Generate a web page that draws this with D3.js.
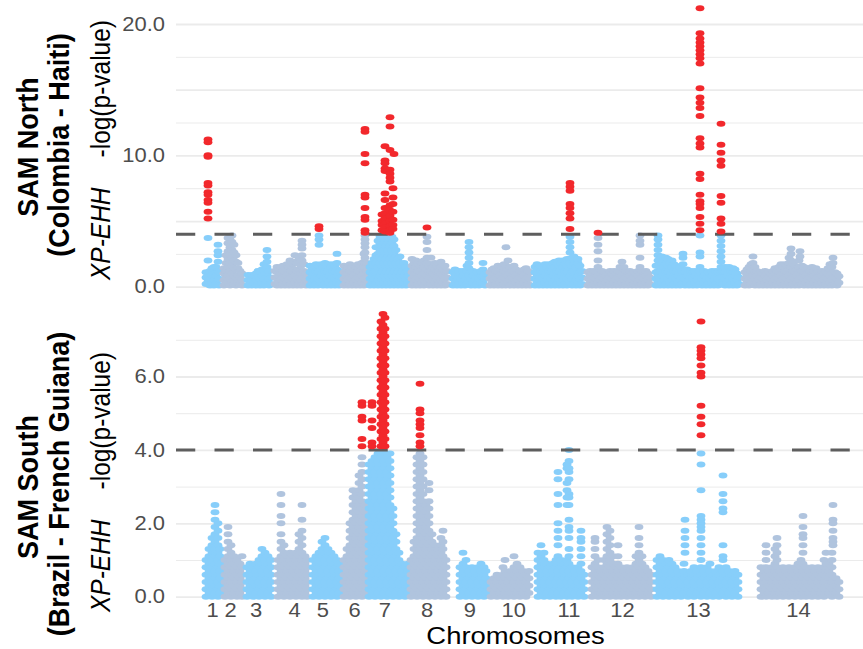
<!DOCTYPE html>
<html>
<head>
<meta charset="utf-8">
<script src="https://cdn.jsdelivr.net/npm/d3@7"></script>
<style>
body { margin: 0; background: #fff; }
svg text { font-family: "Liberation Sans", Arial, Helvetica, sans-serif; }
</style>
</head>
<body>
<div id="chart"></div>
<script>
// chromosomes, lengths as drawn on the genome axis (Mb) and label positions
const chrNames = ["1","2","3","4","5","6","7","8","9","10","11","12","13","14"];
const chrLen = [19,23,28,35,34,26,42,40,38,45,53,68,88,103];
const chrMid = [9,27,52.7,91,119.3,151,181.3,223.7,266.3,310.3,365.5,419,495,595];
const threshold = 4;

const northTicks = [0,10,20];
const northGrid = [0,2.5,5,7.5,10,12.5,15,17.5,20];
const southTicks = [0,2,4,6];
const southGrid = [0,1,2,3,4,5,6,7];

// SNP loci per chromosome: [position in chromosome (Mb), -log(p) x10 of each SNP at that locus...]
// SAM North (Colombia - Haiti)
const n01 = [[3,2,7,11],[5,112,110,100,99,79,77,72,70,66,64,57,52,37,20,4,9],[7,1,6,12],[9,3,9,14],[11,1,5,10,15],[13,2,8,15],[15,32,27,24,19,12,5],[16,1,6,11]];
const n02 = [[2,1,5,10,14],[4,2,7,12,18,24],[6,3,9,15,21,27,33,37],[8,1,6,12,18,24,30,36],[10,4,10,16,22,28,34,39],[12,2,8,14,20,26,32],[14,1,7,13,19,24],[16,3,9,14,18],[18,2,7,12],[20,1,5,10]];
const n03 = [[3,1,5,9],[5,2,7],[7,1,5,9],[9,3,8],[11,1,5,10],[13,2,7,12],[15,1,6,11],[17,3,8,13],[19,1,6,12,17],[21,2,7,13],[22,28,23,19,15,10,4],[24,1,6,12],[26,2,7]];
const n04 = [[2,2,7,12],[4,1,6,11,15],[6,3,8,13],[8,1,5,10,15],[10,2,7,12,16],[12,1,6,11],[14,3,8,13,17],[16,1,5,10,15],[17,20],[18,2,7,12,16],[20,1,6,11,17],[22,24,3,8,13,19],[24,1,6,12,18],[26,2,7,13,22],[28,1,5,10,16],[29,35,32,29,24,20],[31,2,7,12,17],[33,1,5,10]];
const n05 = [[2,1,6,11,16],[4,3,8,13],[6,1,5,10,15],[8,2,7,12,17],[10,1,6,11],[11,46,44,39,36,32,16],[13,3,8,13,17],[15,1,5,10,15],[17,2,7,12,18],[19,1,6,11,16],[21,3,8,13,17],[23,1,5,10,15],[25,2,7,12,17],[27,1,6,11,16],[29,25,3,8,13,18],[31,1,5,10],[32,2,7,12]];
const n06 = [[2,1,6,11,16],[4,3,8,13],[6,1,5,10,15],[8,2,7,12,17],[10,1,6,11,15],[12,3,8,13],[14,1,5,10,15],[16,2,7,12,17],[18,1,6,11,16],[20,3,8,13,18],[22,1,6,12,19,25],[23,120,118,101,94,70,68,60,53,51,43,41,39,36,33,30,26,22,18,14,10,6,2],[25,2,7,12,18]];
const n07 = [[2,1,6,11,15],[4,3,8,13,18],[6,1,6,11,16,21],[8,2,7,12,18,24,30],[10,1,5,10,15,20,25,30,35],[12,3,8,13,18,23,28,33,38],[14,55,50,47,43,1,6,11,16,21,26,31,36],[16,3,8,13,18,23,28,33,38],[17,107,96,94,90,88,71,66,60,56,52,48,45,42],[18,1,6,11,16,21,26,31,36],[20,3,8,13,18,23,28,33,38],[22,129,122,104,89,86,83,80,62,58,54,50,46,43,41,1,6,11,16,21,26,31,36],[24,3,8,13,18,23,28,33,38],[25,75,68,63,57,51,47,44],[26,101,1,6,11,16,21,26,31,36],[28,3,8,13,18,23,28],[30,1,6,11,16,21],[32,3,8,13,18,23],[34,1,6,11,16],[36,3,8,13,18],[38,1,6,11,15],[40,3,8,12]];
const n08 = [[2,1,6,11,16,21],[4,3,8,13,18],[6,1,5,10,15,20],[8,2,7,12,17],[10,1,6,11,16],[12,3,8,13,18],[14,1,5,10,15,20],[17,45,38,34,28,22,3,8,13,18],[19,1,6,11,16],[21,2,7,12,17,22],[23,1,5,10,15],[25,3,8,13,18],[27,1,6,11,16],[29,2,7,12,17],[31,1,5,10,15,19],[33,3,8,13],[35,1,6,11,16],[37,2,7,12]];
const n09 = [[3,1,6,11],[5,3,8,13],[7,1,5,10],[9,2,7,12],[11,1,6,10],[13,3,8,12],[15,1,5,10],[17,2,7,12,16],[19,34,30,26,22,18,14,9,4],[21,1,6,11],[23,3,8,12],[25,1,5,10],[27,2,7,11],[29,1,6,10],[31,3,8,12],[33,18,13,8,3],[35,1,6,10]];
const n10 = [[2,1,6,11],[4,3,8,13],[6,1,5,10,14],[8,2,7,12],[10,1,6,11,16],[12,3,8,13],[14,1,5,10,15],[16,2,7,12,17],[18,30,1,6,11,16],[20,20,3,8,13],[22,1,5,10,15],[24,2,7,12],[26,1,6,11,16],[28,3,8,13],[30,1,5,10],[32,2,7,12],[34,1,6,11],[36,3,8,13],[38,1,5,10,14],[40,2,7,12],[42,1,6,11]];
const n11 = [[2,1,6,11,15],[4,3,8,13,17],[6,1,5,10,14],[8,2,7,12,16],[10,1,6,11],[12,3,8,13,17],[14,1,5,10,15],[16,2,7,12,17],[18,1,6,11,16],[20,3,8,13,18],[22,1,5,10,15,19],[24,2,7,12,17],[26,1,6,11,16,20],[28,3,8,13,18],[30,1,5,10,15,20],[32,2,7,12,17],[34,1,6,11,16,21],[37,79,76,73,63,60,56,52,44,38,34,30,26,21,3,8,13,18],[39,1,6,11,16,22],[41,2,7,12,17,23],[43,1,5,10,15,20],[45,3,8,13,18,21],[47,1,6,11,16],[49,2,7,12]];
const n12 = [[2,1,6,11],[4,3,8,12],[6,1,5,10],[8,2,7,12],[10,1,6,11],[12,41,37,32,27,20,15,3,8],[14,1,5,10],[16,2,7,12],[18,1,6,11],[20,3,8],[22,1,5,10],[24,2,7,12],[26,1,6,10],[28,3,8,12],[30,1,5,10],[32,2,7,12],[34,1,6,11,15],[36,19,14,3,8],[38,1,5,10,15],[40,2,7,12],[42,1,6,11],[44,3,8,12],[46,1,5,10],[48,2,7,11],[50,1,6,10],[52,3,8,12],[54,39,35,32,22,15,1,5,10],[56,2,7,12],[58,1,6,11],[60,3,8,12],[62,1,5,10],[64,2,7]];
const n13 = [[2,1,6,11,16],[4,39,36,32,28,24,20,16,12,8,4],[6,1,6,11,16,21],[8,3,8,13,18,23],[10,1,5,10,15,20],[12,2,7,12,17,22],[14,1,6,11,16,21],[16,3,8,13,18],[18,1,5,10,15,20],[20,2,7,12,17],[22,1,6,11,16],[24,3,8,13],[26,1,5,10,15],[28,2,7,12],[29,25,22,17],[31,1,6,11],[33,3,8,13],[35,1,5,10],[37,2,7,12],[39,1,6,11],[41,3,8,12],[43,1,5,10],[46,212,193,189,186,183,180,177,174,170,151,144,140,136,130,113,109,106,86,82,70,65,63,60,53,48,43,39,26,23,15,2,7,12],[48,1,6,10],[50,3,8,12],[52,1,5,10],[54,2,7,11],[56,1,6,10],[58,3,8,12],[60,1,5,10],[62,2,7,12],[64,1,6,11],[67,124,108,102,96,92,69,64,52,48,42,39,35,31,27,23,19,15,11,7,3],[69,2,7,12],[71,1,6,11,15],[73,3,8,13],[75,1,5,10,15],[77,2,7,12],[79,1,6,11,14],[81,3,8,13],[83,1,5,10],[85,2,7]];
const n14 = [[3,1,6,11],[5,3,8,13],[7,1,5,10,15],[9,2,7,12,17],[11,23,18,13,8,3],[13,1,6,11,15],[15,3,8,12],[17,1,5,10],[19,2,7,11],[21,1,6,10],[23,3,8,12],[25,1,5,10],[27,2,7,11],[29,1,6,10],[31,3,8,12],[33,1,5,10,14],[35,2,7,12],[37,1,6,11,15],[39,3,8,13,17],[41,1,5,10,15],[43,2,7,12,17],[45,1,6,11,16],[47,3,8,13,18,22],[49,29,25,20,15,10,5,1],[51,2,7,12,17],[53,1,6,11,16],[55,3,8,13],[57,1,5,10,15,20],[58,27,23],[60,2,7,12,16],[62,1,6,11,15],[64,3,8,13],[66,1,5,10,14],[68,2,7,12],[70,1,6,11,15],[72,3,8,12],[74,1,5,10,14],[76,2,7,11],[78,1,6,11],[80,3,8,12],[82,1,5,10],[84,2,7,11],[86,1,6,10,14],[88,3,8,13,17],[90,1,5,10,15],[91,22,18],[93,2,7,11],[95,1,6,10],[97,3,8]];

// SAM South (Brazil - French Guiana)
const s01 = [[3,0,2,4,6,8,10],[6,1,3,5,7,9,11,13],[9,0,2,4,6,8,10,12,14,16],[12,1,3,5,7,9,11,13,15,17,19,21,23,25],[15,0,2,4,6,8,10,12,14,16,18,20],[17,1,3,5,7,9,11,13]];
const s02 = [[3,0,2,4,6,8,10],[6,1,3,5,7,9,11,13,15,17,19],[9,0,2,4,6,8,10,12,14],[12,1,3,5,7,9,11],[15,0,2,4,6,8,10],[18,1,3,5,7,9],[20,0,2,4,6,8,11]];
const s03 = [[2,0,2,4,6,8],[5,1,3,5,7,9],[8,0,2,4,6,8],[11,1,3,5,7,9],[14,0,2,4,6,8,10],[17,1,3,5,7,9,11,13],[20,0,2,4,6,8,10,12],[23,1,3,5,7,9,11],[26,0,2,4,6,8,10]];
const s04 = [[5,0,2,4,6,8,10],[8,1,3,5,7,9,11,13,15,17,20,22,25,28],[11,0,2,4,6,8,10,12,14],[14,1,3,5,7,9,11],[17,0,2,4,6,8,10,12],[20,1,3,5,7,9,11],[23,0,2,4,6,8,10,12],[26,1,3,5,7,9,11,13,15,17],[29,0,2,4,6,8,10,12,14,16,18,21,25],[32,1,3,5,7,9,11],[34,0,2,4,6,8,10]];
const s05 = [[5,0,2,4,6,8,10],[8,1,3,5,7,9,11],[11,0,2,4,6,8,10,12],[14,1,3,5,7,9,11,13,15],[17,0,2,4,6,8,10,12,14,16],[20,1,3,5,7,9,11,13],[23,0,2,4,6,8,10,12],[26,1,3,5,7,9,11],[29,0,2,4,6,8,10],[31,1,3,5,7,9]];
const s06 = [[2,0,2,4,6,8,10],[5,1,3,5,7,9,11,13],[8,0,2,4,6,8,10,12,14,16,18,20],[11,1,3,5,7,9,11,13,15,17,19,21,23,25,27,29],[14,0,2,4,6,8,10,12,14,16,18,20,22,24,26,28],[17,1,3,5,7,9,11,13,15,17,19,21,23,25,27,29,31,33],[20,53,52,49,48,43,41,0,2,4,6,8,10,12,14,16,18,20,22,24,26,28,30,32,34,36,38],[23,1,3,5,7,9,11,13,15,17,19,21,23,25]];
const s07 = [[1,0,2,4,6,8,10,12,14,16,18,20,22,24,26,28,30,32,34,36],[4,53,52,48,46,42,41,1,3,5,7,9,11,13,15,17,19,21,23,25,27,29,31,33,35,37],[7,0,2,4,6,8,10,12,14,16,18,20,22,24,26,28,30,32,34,36,38],[10,1,3,5,7,9,11,13,15,17,19,21,23,25,27,29,31,33,35,37,39],[13,75,73,71,69,67,65,63,61,59,57,55,53,51,49,47,45,43,41,0,2,4,6,8,10,12,14,16,18,20,22,24,26,28,30,32,34,36,38],[15,77,74,72,70,68,66,64,62,60,58,56,54,52,50,48,46,44,42],[16,1,3,5,7,9,11,13,15,17,19,21,23,25,27,29,31,33,35,37,39],[17,76,73,71,69,67,65,63,61,59,57,55,53,51,49,47,45,43,41],[19,0,2,4,6,8,10,12,14,16,18,20,22,24,26,28,30,32,34,36,38],[22,1,3,5,7,9,11,13,15,17,19,21,23,25,27,29,31,33,35,37,39],[25,0,2,4,6,8,10,12,14,16,18,20,22,24],[28,1,3,5,7,9,11,13,15,17],[31,0,2,4,6,8,10,12],[34,1,3,5,7,9],[37,0,2,4,6,8],[40,1,3,5,7,9]];
const s08 = [[1,0,2,4,6,8,10],[4,1,3,5,7,9,11,13,15],[7,0,2,4,6,8,10,12,14,16,18,20,22,24,26,28,30,32,34,36,38],[10,58,51,50,48,47,46,44,42,41,1,3,5,7,9,11,13,15,17,19,21,23,25,27,29,31,33,35,37,39],[13,0,2,4,6,8,10,12,14,16,18,20,22,24,26,28,30,32,34,36,38],[16,1,3,5,7,9,11,13,15,17,19,21,23,25],[19,0,2,4,6,8,10,12,14,16,18,20,22,24,26,29,31],[22,1,3,5,7,9,11,13,15,17],[25,0,2,4,6,8,10,12,14],[28,1,3,5,7,9,11,13],[31,0,2,4,6,8,10,12,14,16],[33,1,3,5,7,9,11,13,15,18],[36,0,2,4,6,8,10]];
const s09 = [[10,0,2,4,6,8],[13,1,3,5,7,9,12],[16,0,2,4,6,8,10],[19,1,3,5,7],[22,0,2,4,6,8],[25,1,3,5,7],[28,0,2,4,6,8],[31,1,3,5,7,9],[34,0,2,4,6,8],[36,1,3,5,7]];
const s10 = [[3,0,2,4],[6,1,3,5],[9,0,2,4,6],[12,1,3,5],[15,0,2,4,6,8],[17,1,3,5,7,10],[20,0,2,4,6],[23,1,3,5,7],[26,0,2,4,6,8,11],[29,1,3,5,7,9],[32,0,2,4,6,8],[35,1,3,5,7],[38,0,2,4,6],[41,1,3,5,7]];
const s11 = [[5,0,2,4,6,8,10,12],[8,1,3,5,7,9,11,14],[11,0,2,4,6,8,10,12],[14,1,3,5,7,9],[17,0,2,4,6,8],[20,1,3,5,7,9],[23,0,2,4,6,8,10],[25,34,32,28,25,20,18,16,14,1,3,5,7,9,11],[28,0,2,4,6,8,10],[31,1,3,5,7,9],[34,36,35,31,29,27,25,0,2,4,6,8,10],[36,40,37,35,34,32,28,27,25,21,19,18,16,1,3,5,7,9,11,13],[39,0,2,4,6,8],[42,1,3,5,7],[45,0,2,4,6,8],[48,18,16,15,13,11,1,3,5,7,9],[51,0,2,4,6]];
const s12 = [[6,0,2,4,6,8],[9,1,3,5,7,9,11,13,15,16],[12,0,2,4,6,8,10],[15,1,3,5,7],[18,0,2,4,6,8,10],[21,1,3,5,7,9,11,13,15,17,19],[24,0,2,4,6,8,10,12,14,16,18],[27,1,3,5,7,9,11],[30,0,2,4,6,8],[32,1,3,5,7,9,11,14],[35,0,2,4,6,8],[38,1,3,5,7],[41,0,2,4,6,8],[44,1,3,5,7],[47,0,2,4,6,8],[50,1,3,5,7,9,11],[53,0,2,4,6,8,10,12,14,16,19],[56,1,3,5,7,9,11],[59,0,2,4,6,8],[62,1,3,5,7],[65,0,2,4,6]];
const s13 = [[3,0,2,4,6,8,10],[6,1,3,5,7,9,11],[9,0,2,4,6,8,10],[12,1,3,5,7,9],[15,0,2,4,6,8,10],[18,1,3,5,7,9],[21,0,2,4,6,8],[24,1,3,5,7],[27,0,2,4,6],[30,1,3,5,7,9],[31,21,18,16,14,12],[34,0,2,4,6],[37,1,3,5,7],[40,0,2,4,6,8],[43,1,3,5,7],[47,75,68,67,66,65,63,61,60,52,49,47,44,39,36,29,22,21,20,19,18,16,14,12,0,2,4,6,8,10],[50,1,3,5,7],[53,0,2,4,6,8],[56,1,3,5,7,9],[59,0,2,4,6],[62,1,3,5,7],[65,0,2,4,6,8],[69,33,28,26,24,23,14,11,10,1,3,5,7],[72,0,2,4,6,8],[75,1,3,5,7],[78,0,2,4,6],[81,1,3,5,7],[84,0,2,4,6]];
const s14 = [[19,0,2,4,6,8],[22,1,3,5,7],[24,0,2,4,6,8,10,12,14],[27,1,3,5,7],[30,0,2,4,6,8],[33,1,3,5,7,9,11,13],[35,0,2,4,6,8,10,12,14,16],[38,1,3,5,7],[41,0,2,4,6,8],[44,1,3,5,7],[47,0,2,4,6,8],[50,1,3,5,7],[53,0,2,4,6,8],[56,1,3,5,7,9],[59,0,2,4,6,8,10],[61,22,19,17,16,14,12,1,3,5,7,9],[64,0,2,4,6,8],[67,1,3,5,7],[70,0,2,4,6,8],[73,1,3,5,7],[76,0,2,4,6,8],[79,1,3,5,7],[82,0,2,4,6,8,10],[84,12,9,7],[87,1,3,5,7,9],[90,0,2,4,6,8,10,12],[91,25,21,20,18,16,15,14],[94,1,3,5],[97,0,2,4]];

const northChr = [n01,n02,n03,n04,n05,n06,n07,n08,n09,n10,n11,n12,n13,n14];
const southChr = [s01,s02,s03,s04,s05,s06,s07,s08,s09,s10,s11,s12,s13,s14];

const W = 863, H = 649;
const left = 176, right = 863;
const sx = 1.12; // glyphs in the picture are slightly wider than tall
const colBlue = "#87CEFA", colGray = "#B0C4DE", colRed = "#F2282C";

const svg = d3.select("#chart").append("svg")
    .attr("width", W)
    .attr("height", H);

const chrStart = chrLen.map((d, i) => d3.sum(chrLen.slice(0, i)));

const x = d3.scaleLinear()
    .domain([0, d3.sum(chrLen)])
    .range([203, 845]);

function toPoints(chrs) {
    const pts = [];
    chrs.forEach((loci, i) => {
        loci.forEach(g => {
            g.slice(1).forEach(v => pts.push({ chr: i, pos: chrStart[i] + g[0], p: v / 10 }));
        });
    });
    return pts;
}

const panels = [
    { title: ["SAM North", "(Colombia - Haiti)"], mids: [147, 145, 150], data: northChr,
      y: d3.scaleLinear().domain([0, 20]).range([286.7, 24]),
      ticks: northTicks, grid: northGrid, major: 5 },
    { title: ["SAM South", "(Brazil - French Guiana)"], mids: [487, 484, 482], data: southChr,
      y: d3.scaleLinear().domain([0, 6]).range([596.7, 376.5]),
      ticks: southTicks, grid: southGrid, major: 2 }
];

panels.forEach(pn => {
    const y = pn.y;
    const g = svg.append("g");

    // horizontal grid lines
    g.append("g")
        .attr("transform", `translate(${left},0)`)
        .call(d3.axisLeft(y).tickValues(pn.grid).tickSize(-(right - left)).tickFormat(""))
        .call(a => a.select(".domain").remove())
        .selectAll("line")
        .attr("stroke", "#EBEBEB")
        .attr("stroke-width", d => (d % pn.major === 0 ? 1.8 : 1));

    // y tick labels
    const ya = g.append("g")
        .attr("transform", `translate(${left},0)`)
        .call(d3.axisLeft(y).tickValues(pn.ticks).tickSize(0).tickPadding(0).tickFormat(d3.format(".1f")))
        .attr("font-size", null)
        .attr("font-family", null);
    ya.select(".domain").remove();
    ya.selectAll("text")
        .attr("transform", `translate(-11,0) scale(${sx},1)`)
        .attr("font-size", 19.6)
        .attr("fill", "#4D4D4D");

    const pts = toPoints(pn.data);
    const low = pts.filter(d => d.p <= threshold);
    const high = pts.filter(d => d.p > threshold);

    g.append("g").selectAll("ellipse")
        .data(low)
        .join("ellipse")
        .attr("cx", d => x(d.pos))
        .attr("cy", d => y(d.p))
        .attr("rx", 4.4)
        .attr("ry", 3)
        .attr("fill", d => (d.chr % 2 === 0 ? colBlue : colGray));

    g.append("line")
        .attr("x1", left)
        .attr("x2", right)
        .attr("y1", y(threshold))
        .attr("y2", y(threshold))
        .attr("stroke", "#5E5E5E")
        .attr("stroke-width", 3)
        .attr("stroke-dasharray", "19.25,19.25");

    g.append("g").selectAll("ellipse")
        .data(high)
        .join("ellipse")
        .attr("cx", d => x(d.pos))
        .attr("cy", d => y(d.p))
        .attr("rx", 4.4)
        .attr("ry", 3)
        .attr("fill", colRed);

    // panel titles (rotated)
    g.append("text")
        .attr("transform", `translate(38,${pn.mids[0]}) scale(${sx},1) rotate(-90)`)
        .attr("text-anchor", "middle")
        .attr("font-size", 27)
        .attr("font-weight", "bold")
        .text(pn.title[0]);

    g.append("text")
        .attr("transform", `translate(69,${pn.mids[1]}) scale(${sx},1) rotate(-90)`)
        .attr("text-anchor", "middle")
        .attr("font-size", 27)
        .attr("font-weight", "bold")
        .text(pn.title[1]);

    const yt = g.append("text")
        .attr("transform", `translate(110,${pn.mids[2]}) scale(${sx},1) rotate(-90)`)
        .attr("text-anchor", "middle")
        .attr("font-size", 24.5);
    yt.append("tspan").attr("font-style", "italic").text("XP-EHH");
    yt.append("tspan").attr("dx", 30).text("-log(p-value)");
});

// chromosome axis
const xa = svg.append("g")
    .attr("transform", "translate(0,596.7)")
    .call(d3.axisBottom(x).tickValues(chrMid).tickSize(0).tickPadding(6).tickFormat((d, i) => chrNames[i]))
    .attr("font-size", null)
    .attr("font-family", null);
xa.select(".domain").remove();
xa.selectAll("text")
    .attr("transform", `scale(${sx},1)`)
    .attr("font-size", 19.6)
    .attr("fill", "#4D4D4D");

svg.append("text")
    .attr("transform", `translate(515.5,643.5) scale(${sx},1)`)
    .attr("text-anchor", "middle")
    .attr("font-size", 24.5)
    .attr("fill", "#000")
    .text("Chromosomes");
</script>
</body>
</html>
